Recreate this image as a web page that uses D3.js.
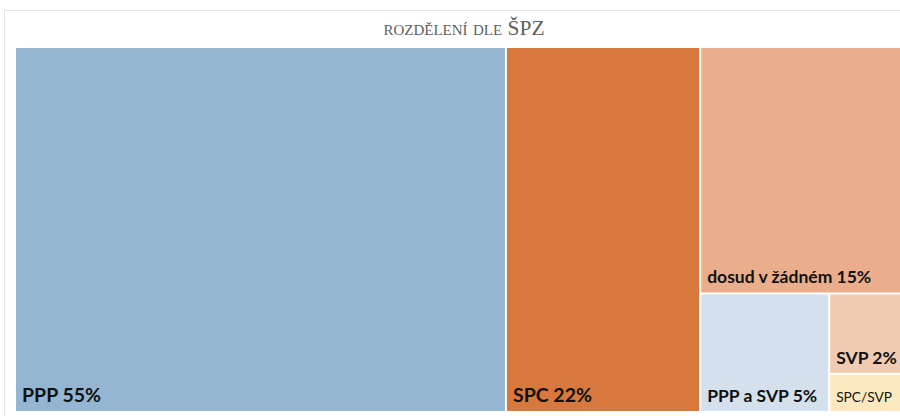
<!DOCTYPE html>
<html>
<head>
<meta charset="utf-8">
<script src="https://cdn.jsdelivr.net/npm/d3@7"></script>
<style>
  html, body { margin: 0; padding: 0; background: #fff; overflow: hidden; }
  svg { display: block; }
</style>
</head>
<body>
<div id="chart"></div>
<script>
// category labels as shown in the tiles
const categories = ["PPP 55%", "SPC 22%", "dosud v žádném 15%", "PPP a SVP 5%", "SVP 2%", "SPC/SVP"];
// share of the whole
const shares = [55.1, 21.8, 15.6, 4.7, 1.9, 0.9];
const colors = ["#94b6d3", "#d9783c", "#eaae8c", "#d4e0ec", "#f0cbb1", "#fde9bf"];

const width = 900, height = 416;
const plot = { left: 16, top: 48, w: 889, h: 363 };

const svg = d3.select("#chart").append("svg")
  .attr("width", width)
  .attr("height", height);

// chart frame (runs past the right edge, like the screenshot)
svg.append("rect")
  .attr("x", 4.5).attr("y", 10.5)
  .attr("width", 920).attr("height", 420)
  .attr("fill", "#fff")
  .attr("stroke", "#e3e3e3");

svg.append("text")
  .attr("x", 464).attr("y", 35)
  .attr("text-anchor", "middle")
  .attr("font-family", "'Liberation Serif', serif")
  .attr("font-size", 21.5)
  .style("font-variant", "small-caps")
  .attr("fill", "#5f5f5f")
  .text("rozdělení dle ").append("tspan").text("ŠPZ");

const root = d3.hierarchy({
    children: categories.map((c, i) => ({ name: c, value: shares[i], color: colors[i] }))
  })
  .sum(d => d.value || 0)
  .sort((a, b) => b.value - a.value);

d3.treemap()
  .tile(d3.treemapSquarify.ratio(1))
  .size([plot.w, plot.h])
  .paddingInner(2)(root);

const g = svg.append("g")
  .attr("transform", `translate(${plot.left},${plot.top})`);

const cell = g.selectAll("g.cell")
  .data(root.leaves())
  .join("g")
  .attr("class", "cell")
  .attr("transform", d => `translate(${d.x0},${d.y0})`);

cell.append("rect")
  .attr("width", d => d.x1 - d.x0)
  .attr("height", d => d.y1 - d.y0)
  .attr("fill", d => d.data.color);

// label size depends on the tile, as in Excel
function labelSize(d) {
  const h = d.y1 - d.y0;
  if (h > 300) return 19.5;
  if (h > 60) return 17.5;
  return 13.7;
}

cell.append("text")
  .attr("x", 6)
  .attr("y", d => d.y1 - d.y0 - 9)
  .attr("font-family", "Lato, 'Open Sans', sans-serif")
  .attr("font-size", labelSize)
  .attr("font-weight", d => labelSize(d) > 14 ? "bold" : "normal")
  .attr("fill", "#111")
  .text(d => d.data.name);
</script>
</body>
</html>
